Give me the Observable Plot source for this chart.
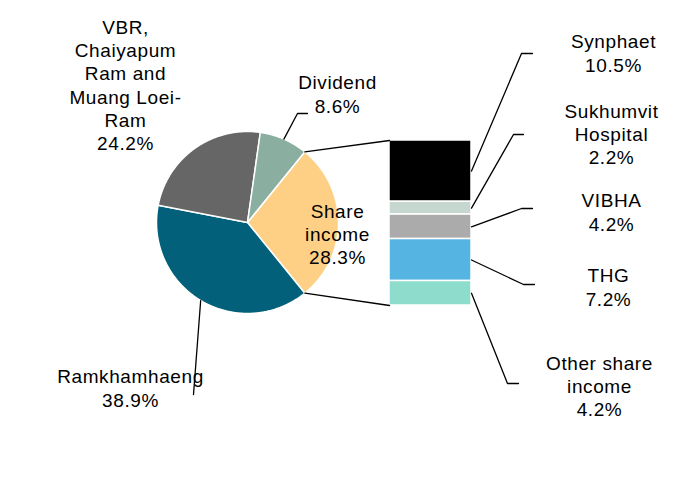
<!DOCTYPE html>
<html>
<head>
<meta charset="utf-8">
<script src="https://cdn.jsdelivr.net/npm/d3@7"></script>
<script src="https://cdn.jsdelivr.net/npm/@observablehq/plot@0.6"></script>
<style>
  html, body { margin: 0; padding: 0; background: #ffffff; }
  #chart svg text { letter-spacing: 0.6px; }
</style>
</head>
<body>
<div id="chart"></div>
<script>
// ---- data ----
const pieNames  = ["Share\nincome", "Ramkhamhaeng", "VBR,\nChaiyapum\nRam and\nMuang Loei-\nRam", "Dividend"];
const pieValues = [28.3, 38.9, 24.2, 8.6];
const pieColors = ["#FDD085", "#02607A", "#666666", "#8AAE9F"];

const barNames  = ["Synphaet", "Sukhumvit\nHospital", "VIBHA", "THG", "Other share\nincome"];
const barValues = [10.5, 2.2, 4.2, 7.2, 4.2];
const barColors = ["#000000", "#C6D7D0", "#ABABAB", "#56B4E3", "#8EDCCB"];

// ---- layout (pixels) ----
const W = 699, H = 479;
const pieLayout = {cx: 247, cy: 222, r: 91};
const barLayout = {x0: 389, x1: 471, top: 140, bottom: 305};
const pieLabelPos = [[337, 233], [130, 387], [125, 84], [337, 93]];
const pieLeaderEnds = [null, [[193, 394]], null, [[297, 113], [307, 113]]];
const barLabelPos = [[613, 52], [611, 133], [611, 211], [608, 286], [599, 385]];
const barLeaderEnds = [
  [[521, 53], [532, 53]],
  [[513, 134], [523, 134]],
  [[521, 208], [532, 208]],
  [[523, 284], [534, 284]],
  [[507, 383], [518, 383]]
];

// ---- derived ----
const barTotal = d3.sum(barValues);
const k = (barLayout.bottom - barLayout.top) / barTotal;     // px per percent point
const pct = py => (py - barLayout.top) / k;                   // pixel y -> y-scale units

const start = Math.PI / 2 - (pieValues[0] / 100) * Math.PI;   // centre "Share income" at 3 o'clock
const arcs = d3.pie().sort(null).startAngle(start).endAngle(start + 2 * Math.PI)(pieValues);
const polar = (a, rr = pieLayout.r) => ({
  x: pieLayout.cx + rr * Math.sin(a),
  y: pct(pieLayout.cy - rr * Math.cos(a))
});

const sliceVerts = [];
arcs.forEach((a, i) => {
  const name = pieNames[i];
  sliceVerts.push({name, ...polar(0, 0)});
  const n = Math.max(2, Math.ceil((a.endAngle - a.startAngle) / 0.01));
  for (let j = 0; j <= n; j++) {
    const t = a.startAngle + (a.endAngle - a.startAngle) * j / n;
    sliceVerts.push({name, ...polar(t)});
  }
});

const bars = barNames.map((name, i) => ({name, value: barValues[i]}));
const cum = d3.cumsum(barValues);
const barMid = barValues.map((v, i) => cum[i] - v / 2);

const leaders = [];
arcs.forEach((a, i) => {
  if (!pieLeaderEnds[i]) return;
  const id = "p" + i;
  leaders.push({id, ...polar((a.startAngle + a.endAngle) / 2)});
  pieLeaderEnds[i].forEach(([x, y]) => leaders.push({id, x, y: pct(y)}));
});
barNames.forEach((name, i) => {
  const id = "b" + i;
  leaders.push({id, x: barLayout.x1, y: barMid[i]});
  barLeaderEnds[i].forEach(([x, y]) => leaders.push({id, x, y: pct(y)}));
});
// connectors from the "Share income" slice to the bar
const sh = arcs[0];
leaders.push({id: "c0", ...polar(sh.startAngle)}, {id: "c0", x: barLayout.x0, y: 0});
leaders.push({id: "c1", ...polar(sh.endAngle)}, {id: "c1", x: barLayout.x0, y: barTotal});

const fmt = v => v.toFixed(1) + "%";
const labels = [
  ...pieNames.map((n, i) => ({text: n + "\n" + fmt(pieValues[i]), x: pieLabelPos[i][0], y: pct(pieLabelPos[i][1])})),
  ...barNames.map((n, i) => ({text: n + "\n" + fmt(barValues[i]), x: barLabelPos[i][0], y: pct(barLabelPos[i][1])}))
];

const chart = Plot.plot({
  width: W,
  height: H,
  margin: 0,
  x: {domain: [0, W], range: [0, W], axis: null},
  y: {domain: [pct(0), pct(H)], range: [0, H], axis: null},
  color: {domain: [...pieNames, ...barNames], range: [...pieColors, ...barColors]},
  style: {fontFamily: "'Liberation Sans', Arial, sans-serif", background: "white", overflow: "visible"},
  marks: [
    Plot.line(sliceVerts, {x: "x", y: "y", z: "name", fill: "name", stroke: "white", strokeWidth: 1.5, curve: "linear-closed"}),
    Plot.rectY(bars, {x1: barLayout.x0, x2: barLayout.x1, y: "value", fill: "name", stroke: "white", strokeWidth: 1.5}),
    Plot.line(leaders, {x: "x", y: "y", z: "id", stroke: "black", strokeWidth: 1.3, curve: "linear"}),
    Plot.text(labels, {x: "x", y: "y", text: "text", fontSize: 19, lineHeight: 1.22, fill: "black", lineAnchor: "middle"})
  ]
});
document.getElementById("chart").appendChild(chart);
</script>
</body>
</html>
